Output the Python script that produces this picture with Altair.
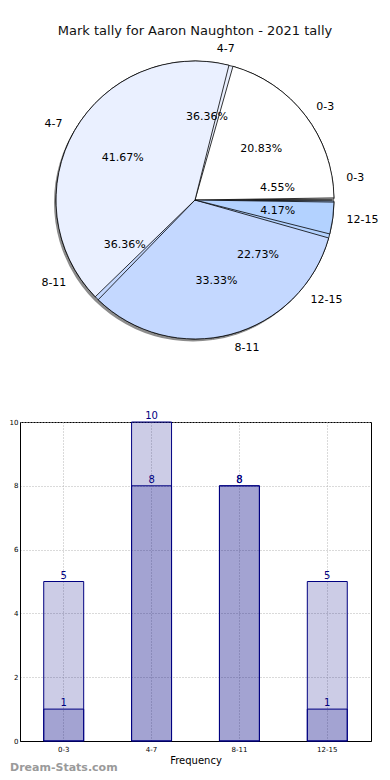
import math
import altair as alt
import pandas as pd

cats = ["0-3", "4-7", "8-11", "12-15"]
tally_a = [5, 10, 8, 1]
tally_b = [1, 8, 8, 5]
pie_colors = ["#ffffff", "#eaf0ff", "#c4d8ff", "#b3d2ff"]
title_text = "Mark tally for Aaron Naughton - 2021 tally"
y_ticks = [0, 2, 4, 6, 8, 10]

df_a = pd.DataFrame({"cat": cats, "v": tally_a, "idx": range(4)})
df_b = pd.DataFrame({"cat": cats, "v": tally_b, "idx": range(4)})

FONT = "DejaVu Sans"
R = 139
PIE_W = 350
theta_scale = alt.Scale(domain=[0, 1], range=[2.5 * math.pi, 0.5 * math.pi])
color_enc = alt.Color("cat:N", scale=alt.Scale(domain=cats, range=pie_colors), legend=None)


def pie_parts(df, pad, shadow=False):
    base = alt.Chart(df).transform_joinaggregate(
        total="sum(v)"
    ).transform_window(
        cum="sum(v)", sort=[alt.SortField("idx")], frame=[None, 0]
    ).transform_calculate(
        f0="(datum.cum - datum.v) / datum.total",
        f1="datum.cum / datum.total",
        fm="(datum.cum - datum.v / 2) / datum.total",
        pct="format(datum.v / datum.total * 100, '.2f') + '%'",
    ).transform_calculate(
        side="cos(2 * PI * datum.fm) >= 0 ? 'R' : 'L'"
    )
    arc_enc = dict(theta=alt.Theta("f0:Q", scale=theta_scale), theta2="f1:Q")
    layers = []
    if shadow:
        layers.append(base.mark_arc(radius=R, xOffset=-2, yOffset=2.5, color="#666666",
                                    opacity=0.75).encode(**arc_enc))
    layers.append(base.mark_arc(radius=R, stroke="black", strokeWidth=0.8, padAngle=pad).encode(
        color=color_enc, **arc_enc))
    txt_theta = alt.Theta("fm:Q", scale=theta_scale)
    pct = base.mark_text(radius=0.6 * R, font=FONT, fontSize=11, color="black").encode(
        theta=txt_theta, text="pct:N")
    lab_r = base.transform_filter("datum.side == 'R'").mark_text(
        radius=1.1 * R, align="left", font=FONT, fontSize=11, color="black"
    ).encode(theta=txt_theta, text="cat:N")
    lab_l = base.transform_filter("datum.side == 'L'").mark_text(
        radius=1.1 * R, align="right", font=FONT, fontSize=11, color="black"
    ).encode(theta=txt_theta, text="cat:N")
    return layers, pct, [lab_r, lab_l]


arcs_b, pct_b, labs_b = pie_parts(df_b, 0.012, shadow=True)
arcs_a, pct_a, labs_a = pie_parts(df_a, 0.03)

title_df = pd.DataFrame({"t": [title_text]})
title_mark = alt.Chart(title_df).mark_text(font=FONT, fontSize=13, color="#111111").encode(
    text="t:N", x=alt.value(PIE_W / 2), y=alt.value(22)
)

pie = alt.layer(
    *arcs_b, *labs_b, *arcs_a, *labs_a, pct_b, pct_a, title_mark
).properties(width=PIE_W, height=382)

# ---------------- bar chart ----------------
bar_df = pd.DataFrame({
    "cat": cats * 2,
    "v": tally_a + tally_b,
    "series": ["A"] * 4 + ["B"] * 4,
})

grid_kw = dict(grid=True, gridDash=[1, 2], gridColor="#b5b5b5", gridWidth=1)
xenc = alt.X(
    "cat:N", sort=cats,
    scale=alt.Scale(paddingInner=0.545, paddingOuter=0.27),
    axis=alt.Axis(title="Frequency", labelAngle=0, labelFontSize=7, labelFont=FONT,
                  titleFont=FONT, titleFontSize=10, titleFontWeight="normal", titleColor="black",
                  titlePadding=3, labelColor="black", domainColor="black", tickSize=0, labelPadding=4,
                  **grid_kw),
)
yenc = alt.Y(
    "v:Q", stack=None, scale=alt.Scale(domain=[0, 10], nice=False),
    axis=alt.Axis(title=None, values=y_ticks, labelFontSize=7, labelFont=FONT, labelColor="black",
                  domainColor="black", tickSize=0, labelPadding=2, **grid_kw),
)

bars = alt.Chart(bar_df).mark_bar(
    fill="#000080", fillOpacity=0.2, stroke="#000080", strokeWidth=1
).encode(x=xenc, y=yenc, detail="series:N")

bar_labels = alt.Chart(bar_df).mark_text(
    baseline="bottom", dy=-1, color="#000080", font=FONT, fontSize=10
).encode(x=alt.X("cat:N", sort=cats), y=alt.Y("v:Q", stack=None), text="v:Q", detail="series:N")

wm_df = pd.DataFrame({"t": ["Dream-Stats.com"]})
watermark = alt.Chart(wm_df).mark_text(
    align="left", baseline="middle", font=FONT, fontSize=11, color="#9a9a9a", fontWeight="bold"
).encode(text="t:N", x=alt.value(-10), y=alt.value(346))

bar_chart = alt.layer(bars, bar_labels, watermark).properties(
    width=351, height=319, view=alt.ViewBackground(stroke="black", strokeWidth=1)
)

chart = alt.vconcat(pie, bar_chart, spacing=18).properties(padding=0).configure_view(
    stroke="transparent"
)

chart.save("out.html", embed_options={"renderer": "svg", "actions": False})
